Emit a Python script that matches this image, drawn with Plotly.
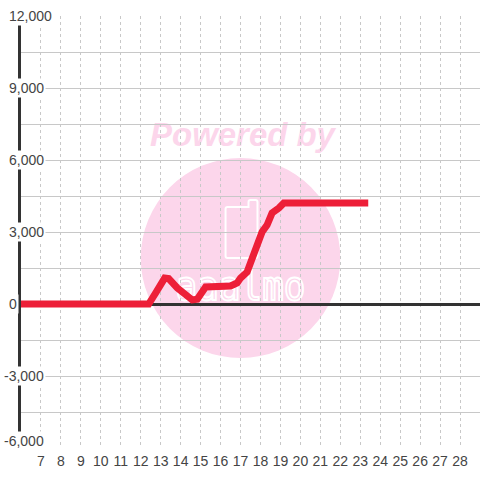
import base64
import plotly.graph_objects as go

# ─── Dados ───────────────────────────────
X_VALS = [6, 12.4, 12.75, 13.2, 13.4, 13.83, 14.58, 14.83, 15.25, 16.5, 16.83, 17.0,
          17.33, 17.58, 17.83, 18.08, 18.33, 18.58, 18.92, 19.17, 23.4]
Y_VALS = [0, 0, 460, 1080, 1060, 670, 170, 200, 710, 750, 875, 1080,
          1330, 1960, 2460, 3000, 3290, 3790, 4000, 4210, 4210]

X_TICKS = list(range(7, 29))
Y_GRID = list(range(-6000, 12001, 1500))
Y_LABELS = list(range(-6000, 12001, 3000))

COR_LINHA = "#ED1F38"
COR_EIXO = "#333333"
COR_GRADE = "#c8c8c8"
COR_TEXTO = "#444444"
ROSA = "#fcd6eb"
FONTE = "Liberation Sans, Arial, sans-serif"

fig = go.Figure()

fig.add_trace(
    go.Scatter(
        x=X_VALS,
        y=Y_VALS,
        mode="lines",
        line=dict(color=COR_LINHA, width=7),
        hoverinfo="skip",
        showlegend=False,
    )
)

# marca d'água (abaixo da grade)
svg = f"""<svg xmlns="http://www.w3.org/2000/svg" width="220" height="250" viewBox="0 0 220 250">
<circle cx="110" cy="148" r="100" fill="{ROSA}"/>
<text x="112" y="36" text-anchor="middle" font-family="Liberation Sans, Arial, sans-serif" font-size="33" font-weight="bold" font-style="italic" fill="{ROSA}">Powered by</text>
<path d="M97,97 H118 V92 Q118,90 120,90 H125 Q127,90 127,92 V146 Q127,148 125,148 H97 Q95,148 95,146 V99 Q95,97 97,97 Z" fill="none" stroke="#ffffff" stroke-width="2"/>
<text x="45" y="190" textLength="130" lengthAdjust="spacingAndGlyphs" font-family="DejaVu Sans Mono, monospace" font-size="40" fill="none" stroke="#ffffff" stroke-width="2">aaalmo</text>
</svg>"""
uri = "data:image/svg+xml;base64," + base64.b64encode(svg.encode()).decode()

fig.add_layout_image(
    dict(
        source=uri,
        xref="x domain",
        yref="y domain",
        x=110 / 460,
        y=338 / 432,
        sizex=220 / 460,
        sizey=250 / 432,
        xanchor="left",
        yanchor="top",
        sizing="stretch",
        layer="below",
    )
)

# rótulos do eixo Y com fundo branco (interrompem a linha do eixo)
for v in Y_LABELS:
    fig.add_annotation(
        xref="paper",
        yref="y",
        x=0,
        y=v,
        text=f"{v:,}",
        showarrow=False,
        xanchor="left",
        yanchor="middle",
        xshift=-14 if v >= 0 else -19,
        yshift=7 if v == Y_LABELS[0] else 0,
        bgcolor="white",
        borderpad=1,
        font=dict(family=FONTE, size=14, color=COR_TEXTO),
    )

fig.update_xaxes(
    range=[6, 29],
    tickvals=X_TICKS,
    ticktext=[str(t) for t in X_TICKS],
    showgrid=True,
    gridcolor=COR_GRADE,
    gridwidth=1,
    griddash="3px,3px",
    zeroline=False,
    showline=False,
    ticks="",
    ticklabelstandoff=3,
    tickfont=dict(family=FONTE, size=14, color=COR_TEXTO),
)
fig.update_yaxes(
    range=[-6000, 12000],
    tickvals=Y_GRID,
    showticklabels=False,
    showgrid=True,
    gridcolor=COR_GRADE,
    gridwidth=1,
    zeroline=True,
    zerolinecolor=COR_EIXO,
    zerolinewidth=3,
    showline=True,
    linecolor=COR_EIXO,
    linewidth=3,
    ticks="",
)

fig.update_layout(
    width=480,
    height=480,
    margin=dict(l=21, r=0, t=16, b=32),
    plot_bgcolor="white",
    paper_bgcolor="white",
    font=dict(family=FONTE, color=COR_TEXTO),
    showlegend=False,
)

# remove a margem padrão do body para o gráfico ocupar a janela inteira
fig.write_html(
    "out.html",
    config={"displayModeBar": False},
    post_script="document.body.style.margin='0';",
)
